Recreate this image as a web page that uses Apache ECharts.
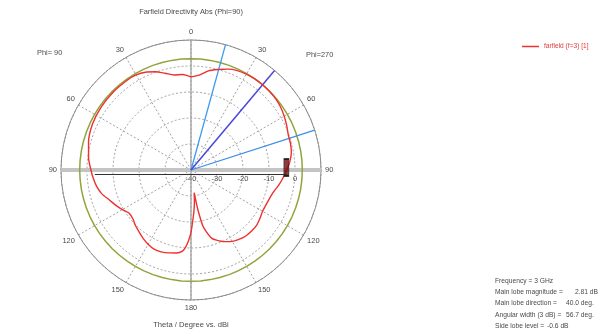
<!DOCTYPE html>
<html>
<head>
<meta charset="utf-8">
<script src="https://cdn.jsdelivr.net/npm/echarts@6/dist/echarts.min.js"></script>
<style>
  html, body { margin: 0; padding: 0; background: #fff; }
  #chart { width: 613px; height: 335px; }
</style>
</head>
<body>
<div id="chart"></div>
<script>
// Farfield directivity cut (Phi=90 on the left half, Phi=270 on the right half).
// Theta runs clockwise from the top: 0..180 on the right, 180..360 mirrored on the left.
const thetaDeg = [0, 5, 10, 15, 20, 25, 30, 35, 40, 45, 50, 55, 60, 65, 70, 75, 80, 85, 90,
  95, 100, 105, 110, 115, 120, 125, 130, 135, 140, 145, 150, 155, 160, 163, 166, 168, 170,
  171, 172, 173, 174, 176, 178, 180, 182, 184, 186, 190, 195, 200, 205, 210, 215, 220, 225,
  230, 235, 240, 245, 250, 255, 260, 265, 270, 277, 285, 295, 305, 315, 325, 330, 335, 340,
  345, 350, 355, 360];
const directivityDb = [-4.2, -3.4, -1.3, 0.0, 1.3, 2.2, 2.55, 2.75, 2.81, 2.75, 2.55, 2.1, 1.4,
  0.6, -0.2, -0.4, -0.8, -1.8, -3.2, -4.5, -5.8, -7.2, -7.9, -8.2, -8.2, -7.6, -7.0, -6.9,
  -7.0, -7.5, -8.3, -9.6, -11.3, -12.5, -15.5, -18.0, -24.0, -28.0, -31.2, -29.5, -27.5,
  -24.0, -20.5, -16.0, -12.8, -10.3, -8.6, -7.6, -7.0, -6.5, -6.4, -7.0, -7.9, -8.9, -9.8,
  -10.8, -11.0, -9.5, -8.0, -6.5, -4.5, -3.2, -2.3, -1.5, -0.3, 0.8, 1.8, 2.2, 2.35, 2.35,
  2.2, 1.5, 0.2, -1.5, -2.9, -3.1, -4.2];

// Radial scale in dBi and angular grid
const radialMin = -40;
const radialMax = 10;
const radialStep = 10;
const angleStep = 30;
const circleAngles = [];
for (let a = 0; a <= 360; a += 5) circleAngles.push(a);

// Main lobe summary
const mainLobeMagnitude = 2.81;
const mainLobeDirection = 40.0;
const halfPowerBounds = [15.4, 72.1];
const sideLobeMarker = [-3.3, 88.5];

const seriesName = 'farfield (f=3) [1]';
const infoLabels = ['Frequency = 3 GHz', 'Main lobe magnitude =', 'Main lobe direction =',
  'Angular width (3 dB) =', 'Side lobe level ='];
const infoValues = ['', '2.81 dB', '40.0 deg.', '56.7 deg.', '-0.6 dB'];

const FONT = "'Liberation Sans', Arial, sans-serif";
const TXT = '#4a4a4a';

const chart = echarts.init(document.getElementById('chart'), null, { renderer: 'canvas' });

// a straight ray through the centre at a given theta
const ray = (theta) => [[radialMin, theta], [radialMax, theta]];
const diameter = (theta) => [[radialMax, theta], [radialMin, theta], [radialMax, (theta + 180) % 360]];

const polarCommon = { center: [191, 170], radius: 130 };

const infoGraphics = [];
infoLabels.forEach((t, i) => {
  infoGraphics.push({
    type: 'text', left: 495, top: 277.5 + i * 11.3,
    style: { text: t, font: '6.7px ' + FONT, fill: TXT }
  });
});
const valueX = [0, 575, 566, 566, 547];
infoValues.forEach((t, i) => {
  if (!t) return;
  infoGraphics.push({
    type: 'text', left: valueX[i], top: 277.5 + i * 11.3,
    style: { text: t, font: '6.7px ' + FONT, fill: TXT }
  });
});

const option = {
  animation: false,
  backgroundColor: '#fff',
  textStyle: { fontFamily: FONT },
  polar: [polarCommon, polarCommon],
  angleAxis: [
    {
      polarIndex: 0, type: 'value', min: 0, max: 360, interval: angleStep,
      startAngle: 90, clockwise: true,
      axisLine: { lineStyle: { color: '#8c8c8c', width: 1 } },
      axisTick: { show: false },
      axisLabel: {
        color: TXT, fontSize: 7.5, margin: 4,
        formatter: (v) => (v >= 360 ? '' : String(v <= 180 ? v : 360 - v))
      },
      splitLine: { show: true, lineStyle: { color: '#8a8a8a', type: [2, 2], width: 0.8 } }
    },
    {
      polarIndex: 1, type: 'value', min: 0, max: 360, startAngle: 0, clockwise: true,
      axisLine: { show: false }, axisTick: { show: false }, axisLabel: { show: false },
      splitLine: { show: false }
    }
  ],
  radiusAxis: [
    {
      polarIndex: 0, type: 'value', min: radialMin, max: radialMax, interval: radialStep,
      axisLine: { show: false }, axisTick: { show: false }, axisLabel: { show: false },
      splitLine: { show: true, lineStyle: { color: '#8a8a8a', type: [2, 2], width: 0.8 } }
    },
    {
      polarIndex: 1, type: 'value', min: radialMin, max: radialMax, interval: radialStep,
      axisLine: { show: false }, axisTick: { show: false }, splitLine: { show: false },
      axisLabel: {
        color: TXT, fontSize: 7.5, margin: -13,
        formatter: (v) => (v >= radialMax ? '' : String(v))
      }
    }
  ],
  legend: {
    left: 517, top: 38, itemWidth: 17, itemHeight: 1.5, icon: 'rect', itemGap: 4,
    textStyle: { color: '#e23a3a', fontSize: 6.6, fontFamily: FONT },
    data: [seriesName]
  },
  graphic: [
    { type: 'text', x: 191, y: 8, style: { text: 'Farfield Directivity Abs (Phi=90)', font: '7.4px ' + FONT, fill: TXT, textAlign: 'center' } },
    { type: 'text', x: 37, y: 49, style: { text: 'Phi= 90', font: '7.4px ' + FONT, fill: TXT } },
    { type: 'text', x: 306, y: 51, style: { text: 'Phi=270', font: '7.4px ' + FONT, fill: TXT } },
    { type: 'text', x: 191, y: 321, style: { text: 'Theta / Degree vs. dBi', font: '7.6px ' + FONT, fill: TXT, textAlign: 'center' } }
  ].concat(infoGraphics),
  series: [
    {
      type: 'line', coordinateSystem: 'polar', polarIndex: 0, data: diameter(90),
      symbol: 'none', silent: true, z: 1,
      lineStyle: { color: '#c4c4c4', width: 4 }
    },
    {
      type: 'line', coordinateSystem: 'polar', polarIndex: 0, data: diameter(0),
      symbol: 'none', silent: true, z: 1,
      lineStyle: { color: '#a6a6a6', width: 1.4 }
    },
    {
      type: 'line', coordinateSystem: 'polar', polarIndex: 0,
      data: circleAngles.map((a) => [mainLobeMagnitude, a]),
      symbol: 'none', silent: true, z: 2,
      lineStyle: { color: '#8fa53c', width: 1.5 }
    },
    {
      type: 'line', coordinateSystem: 'polar', polarIndex: 0, data: ray(halfPowerBounds[0]),
      symbol: 'none', silent: true, z: 3, lineStyle: { color: '#3d9af0', width: 1.3 }
    },
    {
      type: 'line', coordinateSystem: 'polar', polarIndex: 0, data: ray(halfPowerBounds[1]),
      symbol: 'none', silent: true, z: 3, lineStyle: { color: '#3d8ee8', width: 1.3 }
    },
    {
      type: 'line', coordinateSystem: 'polar', polarIndex: 0, data: ray(mainLobeDirection),
      symbol: 'none', silent: true, z: 3, lineStyle: { color: '#4848d8', width: 1.5 }
    },
    {
      name: seriesName,
      type: 'line', coordinateSystem: 'polar', polarIndex: 0,
      data: thetaDeg.map((t, i) => [directivityDb[i], t]),
      symbol: 'none', smooth: 0.25, z: 4,
      itemStyle: { color: '#ee3030' },
      lineStyle: { color: '#ee3030', width: 1.4 }
    },
    {
      type: 'scatter', coordinateSystem: 'polar', polarIndex: 0,
      data: [sideLobeMarker], symbol: 'rect', symbolSize: [5, 17], silent: true, z: 5,
      itemStyle: { color: '#6e0c0c', borderColor: '#111', borderWidth: 1 }
    }
  ]
};

chart.setOption(option);

// thin radial scale baseline just below the horizontal diameter
const pl = chart.convertToPixel({ polarIndex: 0 }, [-3, 270]);
const pr = chart.convertToPixel({ polarIndex: 0 }, [-3, 90]);
if (pl && pr) {
  chart.setOption({
    graphic: option.graphic.concat([{
      type: 'line', silent: true, z: 10,
      shape: { x1: pl[0], y1: pl[1] + 4.5, x2: pr[0], y2: pr[1] + 4.5 },
      style: { stroke: '#333', lineWidth: 1 }
    }])
  });
}
</script>
</body>
</html>
